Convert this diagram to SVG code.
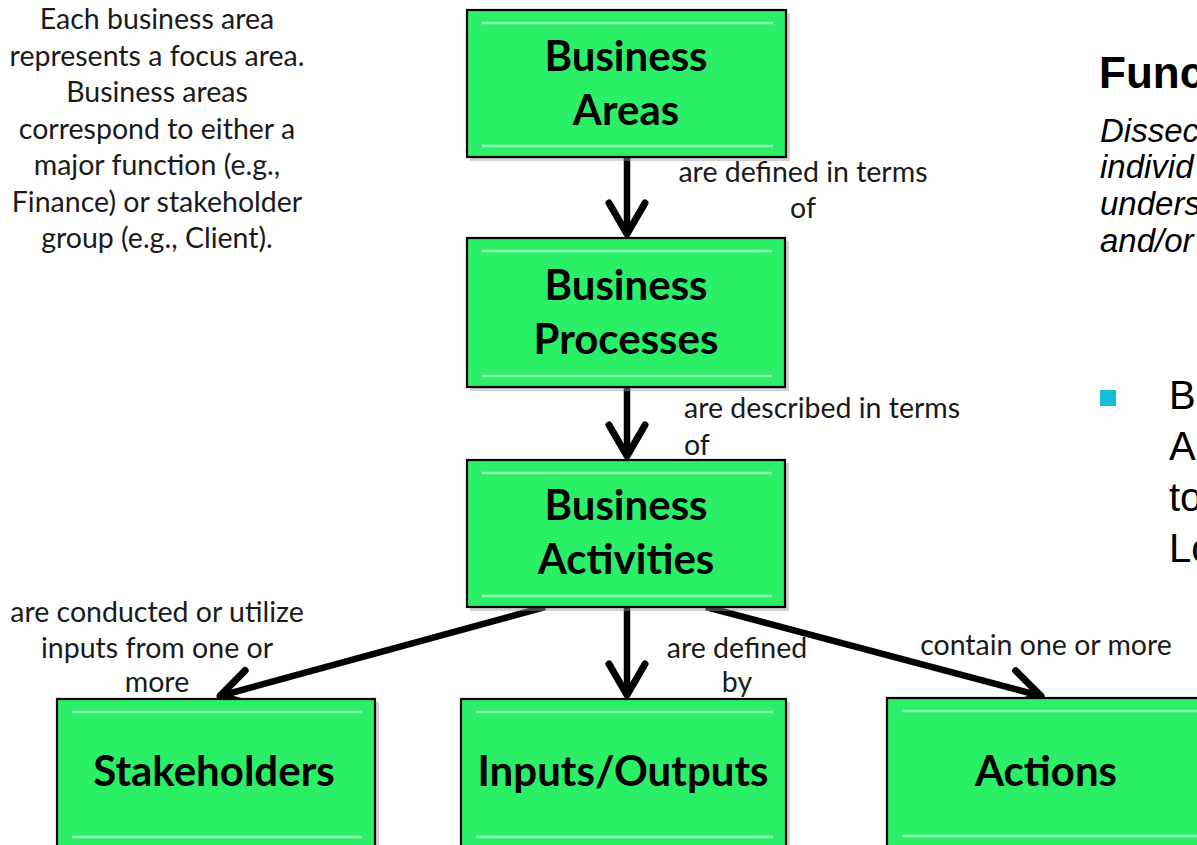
<svg xmlns="http://www.w3.org/2000/svg" width="1197" height="845" viewBox="0 0 1197 845">
  <defs>
    <style>
      .box { fill: #2CEF68; stroke: #000; stroke-width: 2.2; }
      .shadow { fill: #9a9a9a; opacity: 0.45; }
      .hl { stroke: #8DF9B2; stroke-width: 2.5; fill: none; }
      .title { font-family: Lato, "Liberation Sans", sans-serif; font-weight: 700; font-size: 42px; fill: #000; text-anchor: middle; }
      .note { font-family: Lato, "Liberation Sans", sans-serif; font-size: 28.5px; fill: #1a1a1a; text-anchor: middle; }
      .link { fill: none; stroke: #000; stroke-width: 6.5; }
      .side { font-family: "Liberation Sans", Arial, sans-serif; fill: #000; }
    </style>
    <marker id="chev" markerUnits="userSpaceOnUse" orient="auto" overflow="visible" markerWidth="1" markerHeight="1" refX="0" refY="0">
      <path d="M-31,-18 L0,0 L-31,18" fill="none" stroke="#000" stroke-width="7" stroke-linecap="round" stroke-linejoin="round"/>
    </marker>
  </defs>

  <rect width="1197" height="845" fill="#fff"/>

  <!-- annotation beside the top box -->
  <g id="note-areas" class="note">
    <text x="157" y="29">Each business area</text>
    <text x="157" y="65.5">represents a focus area.</text>
    <text x="157" y="102">Business areas</text>
    <text x="157" y="138.5">correspond to either a</text>
    <text x="157" y="175">major function (e.g.,</text>
    <text x="157" y="211.5">Finance) or stakeholder</text>
    <text x="157" y="248">group (e.g., Client).</text>
  </g>

  <!-- connectors -->
  <g id="connectors">
    <line class="link" x1="627" y1="157" x2="627" y2="234" marker-end="url(#chev)"/>
    <line class="link" x1="627" y1="388" x2="627" y2="456" marker-end="url(#chev)"/>
    <line class="link" x1="627" y1="607" x2="627" y2="695" marker-end="url(#chev)"/>
    <line class="link" x1="545" y1="607" x2="220" y2="696" marker-end="url(#chev)"/>
    <line class="link" x1="706" y1="607" x2="1041" y2="696" marker-end="url(#chev)"/>
  </g>

  <!-- connector labels -->
  <g id="labels" class="note">
    <text x="803" y="182">are defined in terms</text>
    <text x="803" y="218">of</text>
    <text x="684" y="418" text-anchor="start">are described in terms</text>
    <text x="684" y="455" text-anchor="start">of</text>
    <text x="157" y="622">are conducted or utilize</text>
    <text x="157" y="658">inputs from one or</text>
    <text x="157" y="692">more</text>
    <text x="737" y="658">are defined</text>
    <text x="737" y="692">by</text>
    <text x="1046" y="655">contain one or more</text>
  </g>

  <!-- node: Business Areas -->
  <g id="business-areas">
    <rect class="shadow" x="470" y="13" width="320" height="148"/>
    <rect class="box" x="467" y="10" width="319" height="147"/>
    <line class="hl" x1="482" y1="23" x2="773" y2="23"/>
    <line class="hl" x1="482" y1="146" x2="773" y2="146"/>
    <text class="title" x="626" y="71">Business</text>
    <text class="title" x="626" y="125">Areas</text>
  </g>

  <!-- node: Business Processes -->
  <g id="business-processes">
    <rect class="shadow" x="470" y="241" width="319" height="150"/>
    <rect class="box" x="467" y="238" width="318" height="149"/>
    <line class="hl" x1="482" y1="251" x2="772" y2="251"/>
    <line class="hl" x1="482" y1="376" x2="772" y2="376"/>
    <text class="title" x="626" y="300">Business</text>
    <text class="title" x="626" y="354">Processes</text>
  </g>

  <!-- node: Business Activities -->
  <g id="business-activities">
    <rect class="shadow" x="470" y="463" width="319" height="148"/>
    <rect class="box" x="467" y="460" width="318" height="147"/>
    <line class="hl" x1="482" y1="473" x2="772" y2="473"/>
    <line class="hl" x1="482" y1="596" x2="772" y2="596"/>
    <text class="title" x="626" y="520">Business</text>
    <text class="title" x="626" y="574">Activities</text>
  </g>

  <!-- node: Stakeholders -->
  <g id="stakeholders">
    <rect class="shadow" x="60" y="702" width="319" height="150"/>
    <rect class="box" x="57" y="699" width="318" height="160"/>
    <line class="hl" x1="72" y1="712" x2="362" y2="712"/>
    <line class="hl" x1="72" y1="837" x2="362" y2="837"/>
    <text class="title" x="214" y="786">Stakeholders</text>
  </g>

  <!-- node: Inputs/Outputs -->
  <g id="inputs-outputs">
    <rect class="shadow" x="464" y="702" width="326" height="150"/>
    <rect class="box" x="461" y="699" width="325" height="160"/>
    <line class="hl" x1="476" y1="712" x2="773" y2="712"/>
    <line class="hl" x1="476" y1="837" x2="773" y2="837"/>
    <text class="title" x="623" y="786">Inputs/Outputs</text>
  </g>

  <!-- node: Actions -->
  <g id="actions">
    <rect class="box" x="887" y="698" width="330" height="160"/>
    <line class="hl" x1="902" y1="711" x2="1197" y2="711"/>
    <line class="hl" x1="902" y1="836" x2="1197" y2="836"/>
    <text class="title" x="1046" y="786">Actions</text>
  </g>

  <!-- side panel text, running off the right edge -->
  <g id="side-panel" class="side">
    <text x="1099" y="88" font-size="44" font-weight="700">Func</text>
    <g font-size="33" font-style="italic">
      <text x="1100" y="142">Dissec</text>
      <text x="1100" y="178">individ</text>
      <text x="1100" y="215">unders</text>
      <text x="1100" y="252">and/or</text>
    </g>
    <rect x="1100" y="390" width="16" height="16" fill="#17BED2"/>
    <g font-size="40">
      <text x="1169" y="409">B</text>
      <text x="1169" y="460">A</text>
      <text x="1169" y="511">to</text>
      <text x="1169" y="562">Lo</text>
    </g>
  </g>
</svg>
